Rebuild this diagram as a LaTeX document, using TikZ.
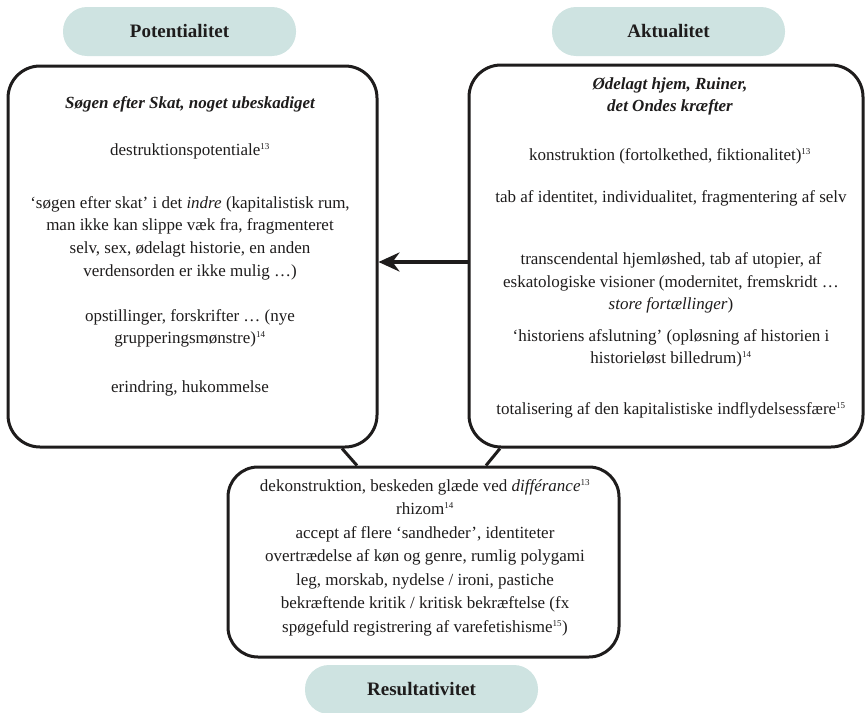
\documentclass[tikz,border=0pt]{standalone}
\usepackage{fontspec}
\setmainfont{Liberation Serif}
\usetikzlibrary{arrows.meta}
\definecolor{pillfill}{RGB}{206,227,225}
\definecolor{ink}{RGB}{30,28,28}
\newcommand\fnref[1]{\textsuperscript{\fontsize{9}{9}\selectfont #1}}
\begin{document}
\begin{tikzpicture}[x=1pt,y=-1pt,
  every node/.style={text=ink},
  pill/.style={fill=pillfill,rounded corners=24pt,minimum width=233pt,minimum height=49pt,inner sep=0pt,font=\fontsize{19}{22}\selectfont\bfseries},
  bigbox/.style={draw=ink,line width=3pt,rounded corners=32pt,inner sep=0pt},
  txt/.style={align=center,inner sep=0pt,font=\fontsize{17}{22.6}\selectfont},
  head/.style={txt,font=\fontsize{17}{22.6}\selectfont\bfseries\itshape},
  link/.style={draw=ink,line width=3pt},
  arrowline/.style={draw=ink,line width=3.6pt,-{Stealth[length=21pt,width=19pt,inset=7pt]}}
]
\useasboundingbox (0,0) rectangle (867,712);
% pills
\node[pill] (pot) at (179.5,31.5) {Potentialitet};
\node[pill] (akt) at (668.5,31.5) {Aktualitet};
\node[pill] (res) at (421.5,689.5) {Resultativitet};
% boxes
\node[bigbox,minimum width=369pt,minimum height=381pt] (L) at (192.5,256.5) {};
\node[bigbox,minimum width=394pt,minimum height=382pt] (R) at (666,256) {};
\node[bigbox,rounded corners=30pt,minimum width=391pt,minimum height=190pt] (B) at (423.5,562) {};
% left texts
\node[head] (l1) at (190,104) {Søgen efter Skat, noget ubeskadiget};
\node[txt] (l2) at (190,151) {destruktionspotentiale\fnref{13}};
\node[txt] (l3) at (190,238) {‘søgen efter skat’ i det \textit{indre} (kapitalistisk rum,\\man ikke kan slippe væk fra, fragmenteret\\selv, sex, ødelagt historie, en anden\\verdensorden er ikke mulig …)};
\node[txt] (l4) at (190,328.5) {opstillinger, forskrifter … (nye\\grupperingsmønstre)\fnref{14}};
\node[txt] (l5) at (190,388) {erindring, hukommelse};
% right texts
\node[head] (r1) at (670,96.5) {Ødelagt hjem, Ruiner,\\det Ondes kræfter};
\node[txt] (r2) at (670,156) {konstruktion (fortolkethed, fiktionalitet)\fnref{13}};
\node[txt] (r3) at (671,198) {tab af identitet, individualitet, fragmentering af selv};
\node[txt] (r4) at (671,283) {transcendental hjemløshed, tab af utopier, af\\eskatologiske visioner (modernitet, fremskridt …\\\textit{store fortællinger})};
\node[txt] (r5) at (671,348.5) {‘historiens afslutning’ (opløsning af historien i\\historieløst billedrum)\fnref{14}};
\node[txt] (r6) at (671,410) {totalisering af den kapitalistiske indflydelsessfære\fnref{15}};
% bottom texts
\node[txt,font=\fontsize{17}{23.5}\selectfont] (b1) at (425,557.5) {dekonstruktion, beskeden glæde ved \textit{différance}\fnref{13}\\rhizom\fnref{14}\\accept af flere ‘sandheder’, identiteter\\overtrædelse af køn og genre, rumlig polygami\\leg, morskab, nydelse / ironi, pastiche\\bekræftende kritik / kritisk bekræftelse (fx\\spøgefuld registrering af varefetishisme\fnref{15})};
% connectors
\coordinate (ay) at (0,262);
\draw[arrowline] (R.west |- ay) -- (L.east |- ay);
\coordinate (cl1) at (342,447);
\coordinate (cl2) at (357,467);
\coordinate (cr1) at (500,447);
\coordinate (cr2) at (486,467);
\draw[link] (L.south -| cl1) -- (B.north -| cl2);
\draw[link] (R.south -| cr1) -- (B.north -| cr2);
\end{tikzpicture}
\end{document}
